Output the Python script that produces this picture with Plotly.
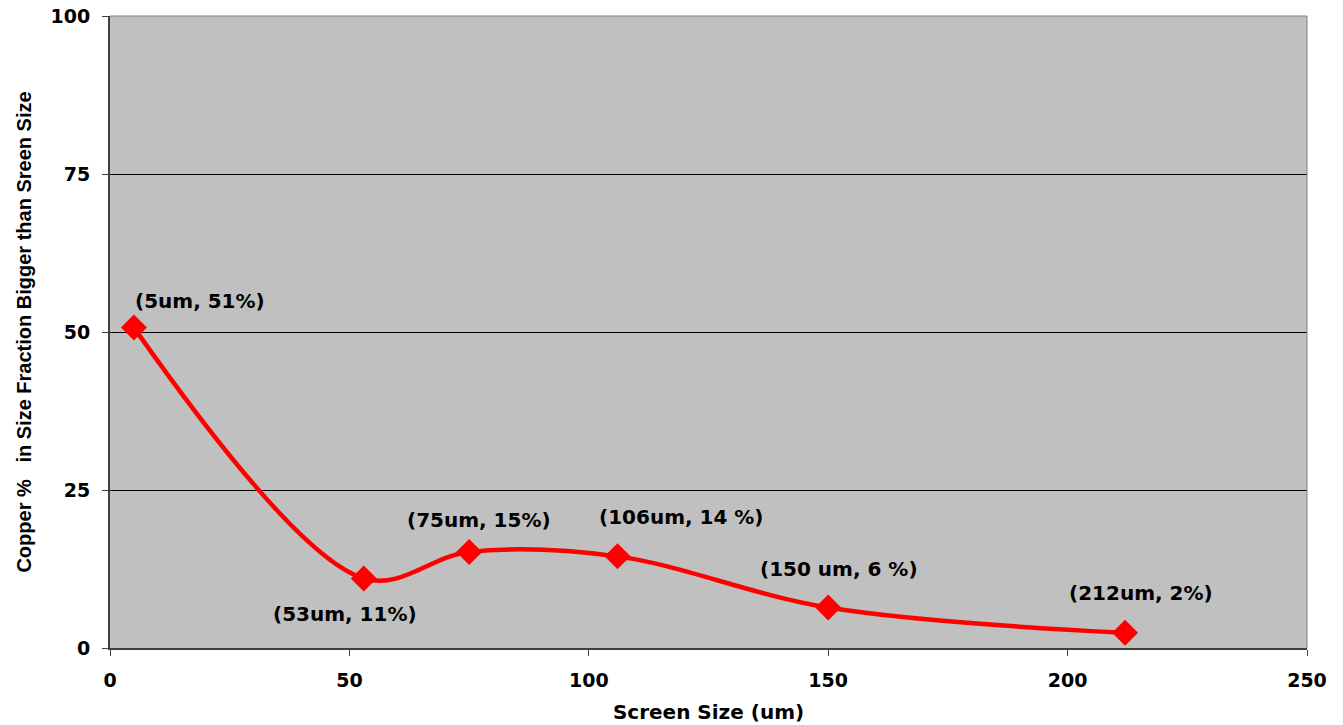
import plotly.graph_objects as go

screen_um = [5, 53, 75, 106, 150, 212]
copper_pct = [50.7, 11.0, 15.2, 14.5, 6.4, 2.4]
labels = ["(5um, 51%)", "(53um, 11%)", "(75um, 15%)", "(106um, 14 %)", "(150 um, 6 %)", "(212um, 2%)"]
label_dx = [66, -19, 10, 64, 11, 16]
label_dy = [27, -36, 32, 39, 39, 40]

WIDE = "DejaVu Sans, Verdana, sans-serif"
ARIAL = "Liberation Sans, Arial, sans-serif"

fig = go.Figure()
fig.add_trace(go.Scatter(
    x=screen_um, y=copper_pct, mode="lines+markers",
    line=dict(color="#FF0000", width=4.5, shape="spline", smoothing=1.0),
    marker=dict(symbol="diamond", size=20, color="#FF0000"),
    showlegend=False, hoverinfo="skip",
))
for x, y, t, dx, dy in zip(screen_um, copper_pct, labels, label_dx, label_dy):
    fig.add_annotation(x=x, y=y, text=t, showarrow=False,
                       xshift=dx, yshift=dy,
                       font=dict(family=WIDE, size=20, color="#000000", weight="bold"))

fig.update_layout(
    width=1343, height=725,
    margin=dict(l=110, r=36, t=16, b=77, autoexpand=False),
    paper_bgcolor="#FFFFFF", plot_bgcolor="#C0C0C0",
    font=dict(family=ARIAL, color="#000000"),
)
fig.update_xaxes(range=[0, 250], tickvals=[0, 50, 100, 150, 200, 250],
                 showgrid=False, zeroline=False, automargin=False,
                 showline=True, linecolor="#404040", linewidth=2, mirror=False,
                 ticks="outside", ticklen=6, tickcolor="#404040", ticklabelstandoff=8,
                 tickfont=dict(family=WIDE, size=19, color="#000000", weight="bold"),
                 title=dict(text="Screen Size (um)", font=dict(family=WIDE, size=20, weight="bold"), standoff=15))
fig.update_yaxes(range=[0, 100], tickvals=[0, 25, 50, 75, 100],
                 showgrid=True, gridcolor="#000000", gridwidth=1, zeroline=False, automargin=False,
                 showline=True, linecolor="#404040", linewidth=2,
                 ticks="outside", ticklen=6, tickcolor="#404040", ticklabelstandoff=8,
                 tickfont=dict(family=WIDE, size=19, color="#000000", weight="bold"),
                 title=dict(text="Copper %   in Size Fraction Bigger than Sreen Size",
                            font=dict(family=ARIAL, size=20, weight="bold"), standoff=14))
fig.add_shape(type="line", xref="paper", yref="paper", x0=0, x1=1, y0=1, y1=1,
              line=dict(color="#808080", width=1))
fig.add_shape(type="line", xref="paper", yref="paper", x0=1, x1=1, y0=0, y1=1,
              line=dict(color="#808080", width=1))
fig.write_html("out.html")
